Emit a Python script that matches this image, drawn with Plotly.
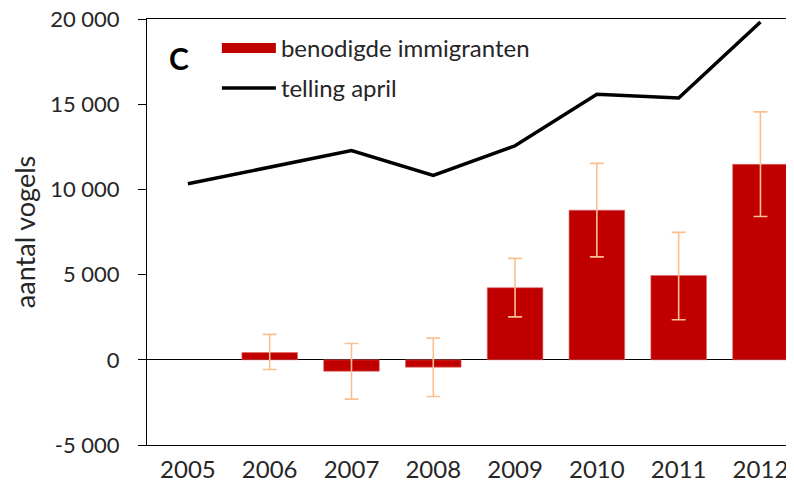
import plotly.graph_objects as go

# -----------------------------------------------------------------------
# Data
# -----------------------------------------------------------------------

YEARS = ['2005', '2006', '2007', '2008', '2009', '2010', '2011', '2012']

# benodigde immigranten (bars); 2005 has no value
IMMIGRANTS = [None, 430, -670, -430, 4230, 8780, 4950, 11470]
ERR_PLUS = [None, 1060, 1630, 1700, 1720, 2750, 2530, 3080]
ERR_MINUS = [None, 1000, 1640, 1720, 1710, 2740, 2600, 3060]

# telling april (line)
COUNT_APRIL = [10330, 11310, 12280, 10820, 12560, 15580, 15360, 19820]

Y_TICKS = [-5000, 0, 5000, 10000, 15000, 20000]
Y_TICK_LABELS = ['-5 000', '0', '5 000', '10 000', '15 000', '20 000']

# -----------------------------------------------------------------------
# Style
# -----------------------------------------------------------------------

_FONT = 'Lato'
_TEXT = '#262626'
BAR_RED = '#C00000'
ERR_COLOR = '#FAC090'
X_RANGE = [-0.5, 7.41]

fig = go.Figure()

fig.add_trace(go.Bar(
    x=YEARS,
    y=IMMIGRANTS,
    name='benodigde immigranten',
    marker=dict(color=BAR_RED, line=dict(color='#E06666', width=0.6)),
    error_y=dict(type='data', symmetric=False, array=ERR_PLUS,
                 arrayminus=ERR_MINUS, color=ERR_COLOR,
                 thickness=1.6, width=7),
    showlegend=False,
    legendgroup='a',
))

# legend stand-in for the bars (wide red block like the original)
fig.add_trace(go.Scatter(
    x=[None], y=[None], mode='lines',
    name='benodigde immigranten',
    line=dict(color=BAR_RED, width=13),
    legendgroup='a',
))

fig.add_trace(go.Scatter(
    x=YEARS,
    y=COUNT_APRIL,
    mode='lines',
    name='telling april',
    line=dict(color='#000000', width=3.5),
    legendgroup='b',
))

# tick marks between categories along the zero line
fig.update_layout(xaxis2=dict(
    overlaying='x', anchor='free', position=0.2, side='bottom',
    range=X_RANGE,
    tickvals=[i + 0.5 for i in range(len(YEARS) - 1)],
    ticks='outside', ticklen=8, tickcolor='#000', tickwidth=1,
    showticklabels=False, showline=False, showgrid=False, zeroline=False,
    automargin=False,
))

# page body keeps an 8px margin, so the figure is 8px smaller each way
fig.update_layout(
    width=786,
    height=480,
    margin=dict(l=139, r=0, t=11, b=43),
    paper_bgcolor='#ffffff',
    plot_bgcolor='#ffffff',
    font=dict(family=_FONT, color=_TEXT, size=24),
    bargap=0.32,
    showlegend=True,
    legend=dict(
        x=0.108, y=0.984, xanchor='left', yanchor='top',
        bgcolor='rgba(0,0,0,0)',
        font=dict(size=24, color=_TEXT),
        itemwidth=54,
        tracegroupgap=6,
        traceorder='grouped',
    ),
    xaxis=dict(
        type='category',
        range=X_RANGE,
        showline=True, mirror=True, linecolor='#000', linewidth=1,
        ticks='', showgrid=False, zeroline=False,
        ticklabelstandoff=3,
        ticklabeloverflow='allow',
        tickfont=dict(size=24, color=_TEXT),
        automargin=False,
    ),
    yaxis=dict(
        range=[-5000, 20000],
        tickvals=Y_TICKS,
        ticktext=Y_TICK_LABELS,
        ticks='outside', ticklen=8, tickcolor='#000', tickwidth=1,
        showline=True, linecolor='#000', linewidth=1,
        showgrid=False,
        zeroline=True, zerolinecolor='#000', zerolinewidth=1,
        ticklabelstandoff=14,
        ticklabeloverflow='allow',
        tickfont=dict(size=22, color=_TEXT),
        title=dict(text='aantal vogels', standoff=6,
                   font=dict(size=27, color=_TEXT)),
        automargin=False,
    ),
    annotations=[dict(
        text='<b>C</b>', xref='paper', yref='paper',
        x=0.0487, y=0.9085, xanchor='center', yanchor='middle',
        showarrow=False,
        font=dict(size=30, color='#000', family=_FONT),
    )],
)

fig.write_html('out.html')
